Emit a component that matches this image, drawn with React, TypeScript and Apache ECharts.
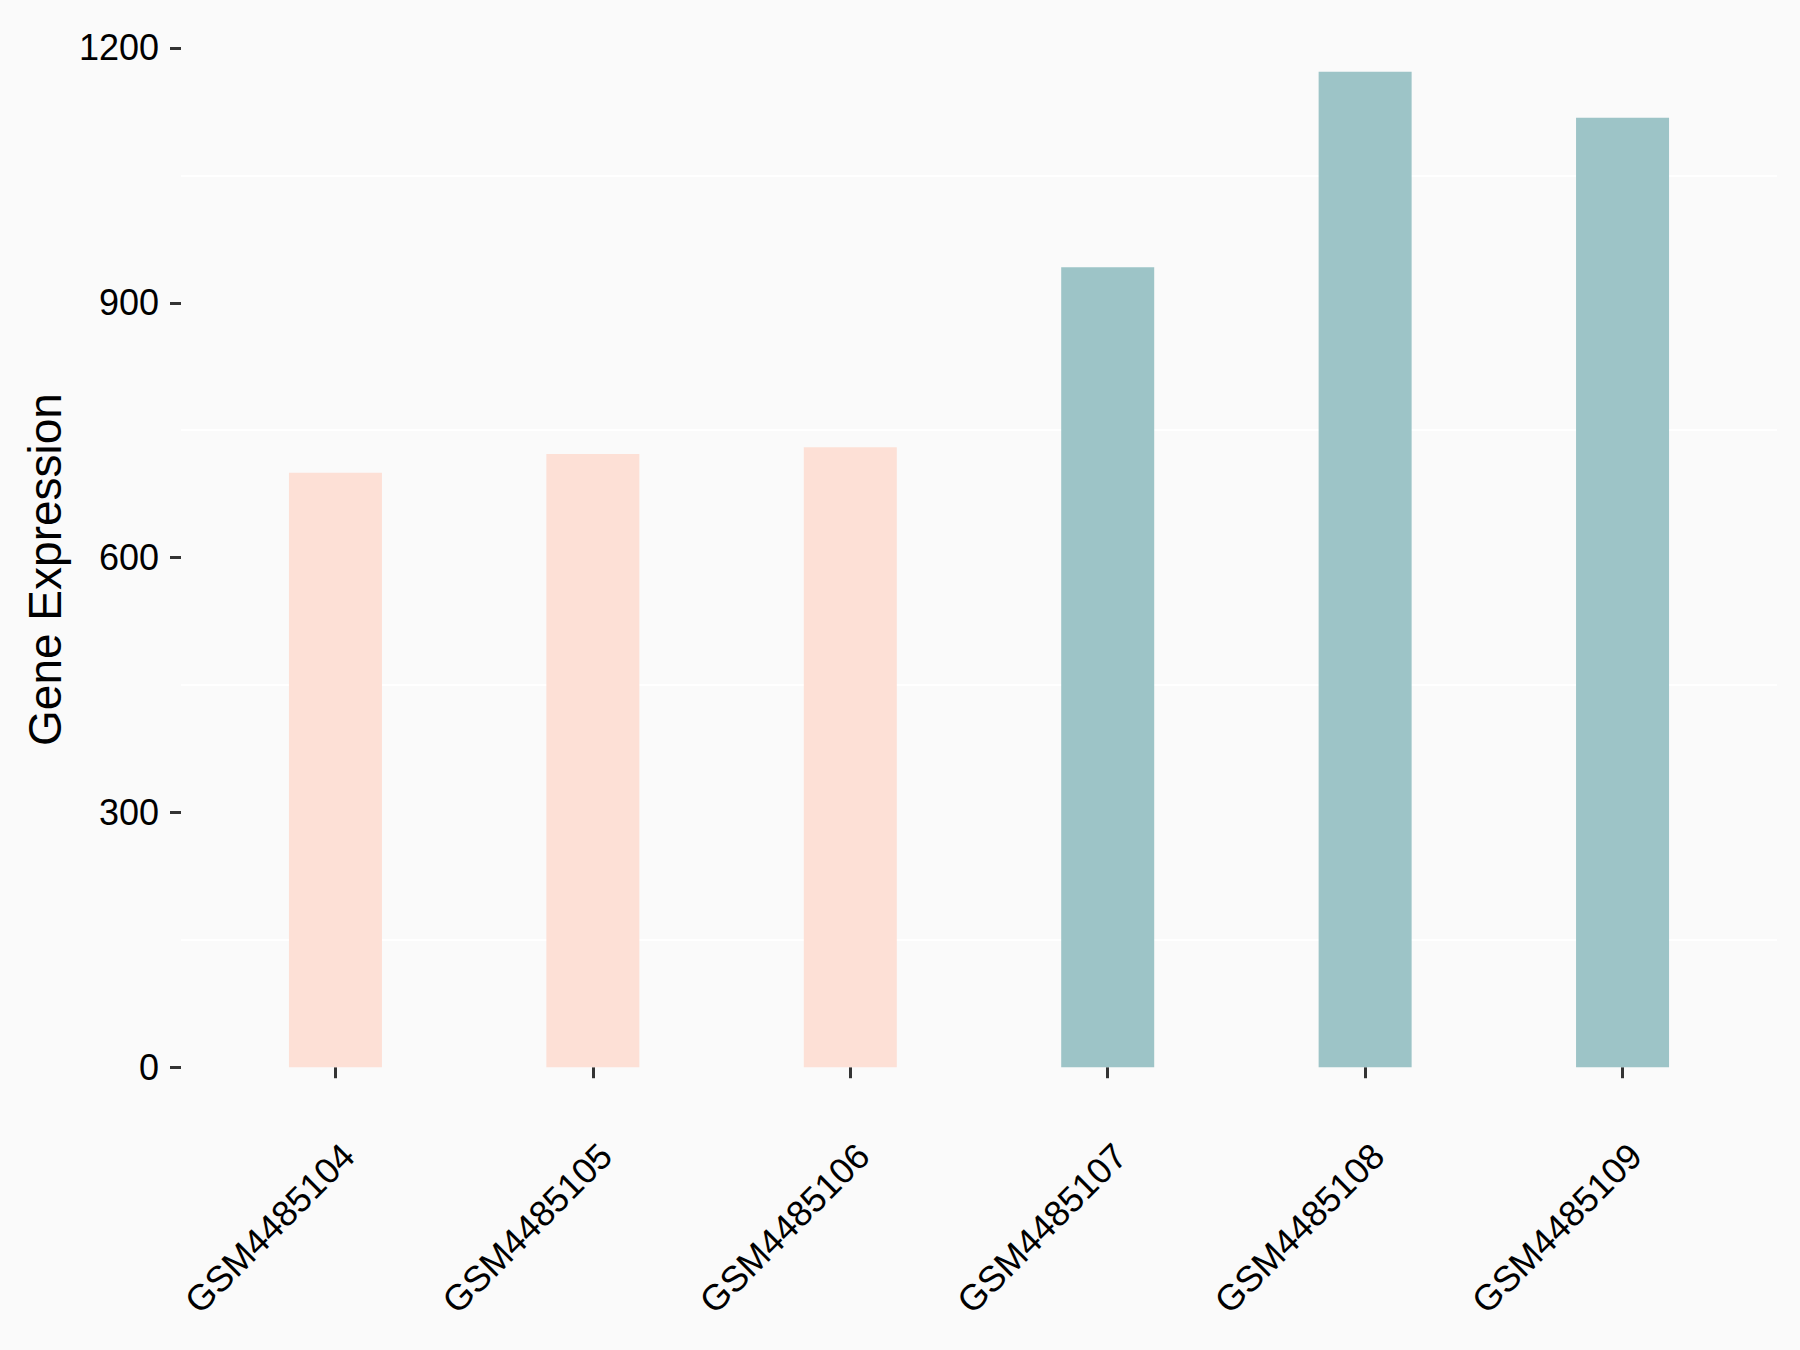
import React, { useEffect, useRef } from "react";
import * as echarts from "echarts";

const categories = ["GSM4485104", "GSM4485105", "GSM4485106", "GSM4485107", "GSM4485108", "GSM4485109"];
const values = [700, 722, 730, 942, 1172, 1118];
const groups = ["Control", "Control", "Control", "Treat", "Treat", "Treat"];
const groupColors: Record<string, string> = { Control: "#FDE0D6", Treat: "#9DC4C7" };
const yTicks = [0, 300, 600, 900, 1200];
const minorLines = [150, 450, 750, 1050];
const yTitle = "Gene Expression";

const FONT = "'Liberation Sans', Arial, Helvetica, sans-serif";

export default function App() {
  const ref = useRef<HTMLDivElement>(null);
  useEffect(() => {
    document.body.style.margin = "0";
    const chart = echarts.init(ref.current!, null, { renderer: "svg" });
    const W = 1800;
    const H = 1350;
    const maxV = Math.max(...values);
    const pad = maxV * 0.05;
    const yMin = -pad;
    const yMax = maxV + pad;
    const panelLeft = 181;
    const panelRight = 1777;
    const panelTop = 22;
    const panelBottom = 1117;
    const n = categories.length;
    const step = (panelRight - panelLeft) / (n - 1 + 1.2);
    const barsLeft = panelLeft + 0.1 * step;
    const barsRight = panelRight - 0.1 * step;

    chart.setOption({
      animation: false,
      backgroundColor: "#FAFAFA",
      grid: [
        { left: panelLeft, right: W - panelRight, top: panelTop, bottom: H - panelBottom, outerBoundsMode: "none", containLabel: false },
        { left: barsLeft, right: W - barsRight, top: panelTop, bottom: H - panelBottom, outerBoundsMode: "none", containLabel: false },
      ],
      xAxis: [
        { type: "value", gridIndex: 0, min: 0, max: 1, show: false },
        {
          type: "category",
          gridIndex: 1,
          data: categories,
          axisLine: { show: false },
          axisTick: { show: true, alignWithLabel: true, length: 11, lineStyle: { color: "#333333", width: 3 } },
          axisLabel: {
            rotate: 45,
            margin: 20,
            align: "right",
            verticalAlign: "top",
            fontSize: 36,
            fontFamily: FONT,
            color: "#000000",
            interval: 0,
          },
          splitLine: { show: false },
        },
      ],
      yAxis: [
        {
          type: "value",
          gridIndex: 0,
          min: yMin,
          max: yMax,
          name: yTitle,
          nameLocation: "middle",
          nameRotate: 90,
          nameGap: 113,
          nameTextStyle: { fontSize: 46, fontFamily: FONT, color: "#000000" },
          axisLine: { show: false, onZero: false },
          axisTick: { show: true, length: 11, customValues: yTicks, lineStyle: { color: "#333333", width: 3 } },
          axisLabel: {
            customValues: yTicks,
            margin: 22,
            fontSize: 36,
            fontFamily: FONT,
            color: "#000000",
            formatter: (v: number) => String(v),
          },
          splitLine: { show: false },
        },
        { type: "value", gridIndex: 1, min: yMin, max: yMax, show: false, splitLine: { show: false } },
      ],
      series: [
        {
          type: "line",
          xAxisIndex: 0,
          yAxisIndex: 0,
          data: [],
          silent: true,
          z: 0,
          markLine: {
            silent: true,
            z: 0,
            symbol: "none",
            label: { show: false },
            lineStyle: { color: "#FFFFFF", width: 2, type: "solid" },
            data: minorLines.map((v) => ({ yAxis: v })),
          },
        },
        {
          type: "bar",
          xAxisIndex: 1,
          yAxisIndex: 1,
          barWidth: 93,
          z: 5,
          data: values.map((v, i) => ({ value: v, itemStyle: { color: groupColors[groups[i]] } })),
        },
      ],
    });
    return () => chart.dispose();
  }, []);
  return <div ref={ref} style={{ width: 1800, height: 1350 }} />;
}
